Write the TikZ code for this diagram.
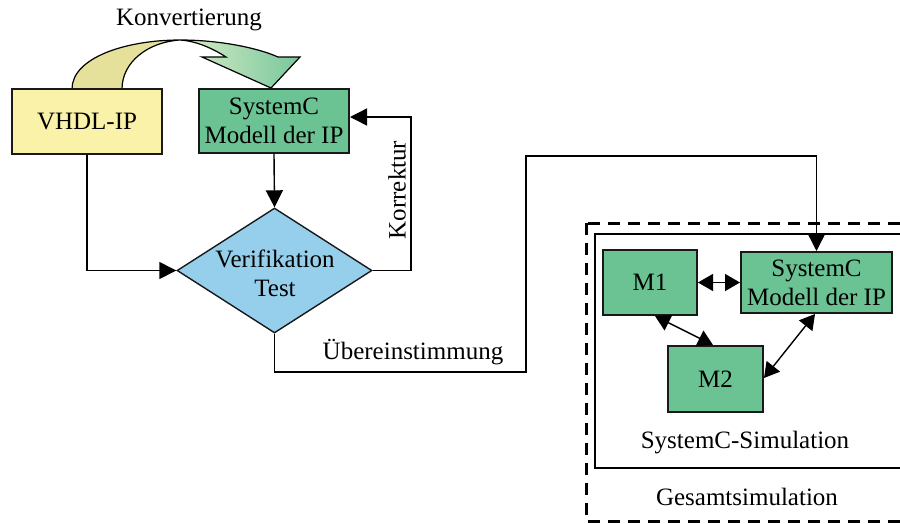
\documentclass[tikz,border=0pt]{standalone}
\usepackage{fontspec}
\setmainfont{Liberation Serif}
\usetikzlibrary{shapes.geometric,arrows.meta,calc}

\definecolor{vhdlyellow}{HTML}{FAF2A9}
\definecolor{scgreen}{HTML}{6BC394}
\definecolor{verblue}{HTML}{95CFEC}
\definecolor{convyellow}{HTML}{E5E09A}
\definecolor{convgreenA}{HTML}{D9EDC8}
\definecolor{convgreenB}{HTML}{78C79C}

\begin{document}
\begin{tikzpicture}[x=1pt,y=-1pt,
  font=\fontsize{25}{29}\selectfont,
  box/.style={draw=black!90,line width=2pt,inner sep=0pt,align=center},
  flow/.style={line width=1.4pt,-{Triangle[length=17pt,width=17pt]}},
  link/.style={line width=1.4pt,{Triangle[length=15pt,width=17pt]}-{Triangle[length=15pt,width=17pt]}},
  lbl/.style={inner sep=0pt,align=center}]
\useasboundingbox (0,0) rectangle (900,523);

% conversion arrow: yellow ribbon turning into a green arrow head
\fill[convyellow] (72,89) .. controls (72,58) and (125,40) .. (180,40)
  .. controls (148,42) and (122,62) .. (122,89) -- cycle;
\fill[left color=convgreenA,right color=convgreenB]
  (180,40) .. controls (220,40) and (258,48) .. (278,57) -- (300,57) -- (271,88)
  -- (202,57) -- (226,57) .. controls (212,48) and (196,41) .. (180,40) -- cycle;
\draw[line width=1.2pt,line join=miter]
  (72,89) .. controls (72,58) and (125,40) .. (180,40)
  .. controls (220,40) and (258,48) .. (278,57) -- (300,57) -- (271,88)
  -- (202,57) -- (226,57) .. controls (212,48) and (196,41) .. (180,40)
  .. controls (148,42) and (122,62) .. (122,89);
\node[lbl] (konv) at (189,20) {Konvertierung};

% left flow
\node[box,fill=vhdlyellow,minimum width=150pt,minimum height=65pt] (vhdl) at (87,121.5) {VHDL-IP};
\node[box,fill=scgreen,minimum width=150pt,minimum height=64pt] (sc) at (274,121) {SystemC\\Modell der IP};
\node[diamond,draw=black!90,line width=1.4pt,fill=verblue,inner sep=0pt,
  minimum width=195pt,minimum height=125pt] (ver) at (274.5,270.5) {};
\node[lbl] (vertext) at (275,273) {Verifikation\\Test};

\draw[flow] (sc.south) -- (ver.north);
\draw[flow] (vhdl.south) |- (ver.west);

\coordinate (kor) at (411,117);
\draw[flow] (ver.east) -| (kor) -- (sc.east |- kor);
\node[lbl,rotate=90] (kortext) at (397,190) {Korrektur};

% simulation boxes
\draw[line width=3pt,dash pattern=on 12pt off 8pt] (586,223) rectangle (915,521);
\draw[line width=2pt] (595,234) rectangle (910,468);
\node[lbl] (simtext) at (745,443) {SystemC-Simulation};
\node[lbl] (gestext) at (747,497) {Gesamtsimulation};

\node[box,fill=scgreen,minimum width=94pt,minimum height=65pt] (m1) at (650,282.5) {M1};
\node[box,fill=scgreen,minimum width=151pt,minimum height=61pt] (sc2) at (816.5,282.5) {SystemC\\Modell der IP};
\node[box,fill=scgreen,minimum width=95pt,minimum height=66pt] (m2) at (715.5,379) {M2};

\coordinate (uA) at (526,372);
\coordinate (uB) at (816.5,156);
\draw[flow] (ver.south) |- (uA) |- (uB) -- (sc2.north);
\node[lbl] (uetext) at (413,352) {Übereinstimmung};

\draw[link] (m1.east) -- (sc2.west |- m1.east);
\draw[link] (655,316) -- (713,345);
\draw[link] (815,314) -- (764,378);
\end{tikzpicture}
\end{document}
